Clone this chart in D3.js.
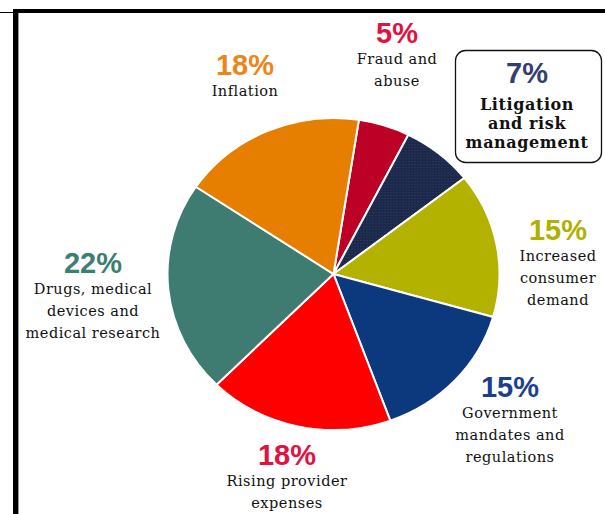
<!DOCTYPE html>
<html>
<head>
<meta charset="utf-8">
<script src="https://cdn.jsdelivr.net/npm/d3@7"></script>
<style>
  body { margin: 0; background: #fff; }
  svg { display: block; }
</style>
</head>
<body>
<div id="chart"></div>
<script>
// slices, clockwise from just right of 12 o'clock
const categories = ["Fraud and abuse", "Litigation and risk management", "Increased consumer demand",
    "Government mandates and regulations", "Rising provider expenses",
    "Drugs, medical devices and medical research", "Inflation"];
const shares = [5, 7, 15, 15, 18, 22, 18];
const pctLabels = ["5%", "7%", "15%", "15%", "18%", "22%", "18%"];
const labelLines = [
    ["Fraud and", "abuse"],
    ["Litigation", "and risk", "management"],
    ["Increased", "consumer", "demand"],
    ["Government", "mandates and", "regulations"],
    ["Rising provider", "expenses"],
    ["Drugs, medical", "devices and", "medical research"],
    ["Inflation"]
];

const sliceColors = ["#BC0026", "url(#navyDots)", "#B3B200", "#0C387E", "#FF0000", "#3E7B70", "#E67E00"];
const pctColors = ["#E2123F", "#343E6E", "#B0B000", "#1A3F8E", "#E2123F", "#3A7F70", "#EE8518"];

// where each label block sits: center x, baseline of the percentage
const labelPos = [
    { x: 397, y: 43 }, { x: 527, y: 83 }, { x: 558, y: 240 }, { x: 510, y: 397 },
    { x: 287, y: 465 }, { x: 93, y: 273 }, { x: 245, y: 75 }
];

const W = 605, H = 514;
const svg = d3.select("#chart").append("svg")
    .attr("width", W).attr("height", H);

// dotted navy fill
const defs = svg.append("defs");
const pat = defs.append("pattern")
    .attr("id", "navyDots")
    .attr("patternUnits", "userSpaceOnUse")
    .attr("width", 3).attr("height", 3);
pat.append("rect").attr("width", 3).attr("height", 3).attr("fill", "#1B2849");
pat.append("rect").attr("width", 1).attr("height", 1).attr("fill", "#34446E");

// frame lines (top and left)
svg.append("rect").attr("x", 13).attr("y", 9).attr("width", W - 13).attr("height", 4).attr("fill", "#000");
svg.append("rect").attr("x", 0).attr("y", 12).attr("width", 14).attr("height", 1).attr("fill", "#000");
svg.append("rect").attr("x", 13).attr("y", 9).attr("width", 5).attr("height", H).attr("fill", "#000");
svg.append("rect").attr("x", 18).attr("y", 13).attr("width", 1).attr("height", H).attr("fill", "#999");

// pie (slightly squashed vertically)
const cx = 333.5, cy = 274, rx = 166, ry = 156;
const start = 8.8 * Math.PI / 180;
const pie = d3.pie().sort(null).value(d => d)
    .startAngle(start).endAngle(start + 2 * Math.PI);
const arc = d3.arc().innerRadius(0).outerRadius(rx);

const pieG = svg.append("g")
    .attr("transform", `translate(${cx},${cy}) scale(1,${ry / rx})`);

pieG.selectAll("path")
    .data(pie(shares))
    .enter().append("path")
    .attr("d", arc)
    .attr("fill", (d, i) => sliceColors[i])
    .attr("stroke", "#fff")
    .attr("stroke-width", 2)
    .attr("vector-effect", "non-scaling-stroke");

// litigation box
svg.append("rect")
    .attr("x", 455.5).attr("y", 50.5)
    .attr("width", 146).attr("height", 112)
    .attr("rx", 10).attr("ry", 10)
    .attr("fill", "#fff").attr("stroke", "#111").attr("stroke-width", 1.3);

// labels
const labels = svg.selectAll(".lbl")
    .data(categories)
    .enter().append("g")
    .attr("class", "lbl")
    .attr("transform", (d, i) => `translate(${labelPos[i].x},${labelPos[i].y})`);

labels.append("text")
    .attr("text-anchor", "middle")
    .style("font-family", "'Liberation Sans', Arial, sans-serif")
    .style("font-weight", "bold")
    .style("font-size", "29px")
    .attr("fill", (d, i) => pctColors[i])
    .text((d, i) => pctLabels[i]);

labels.each(function (d, i) {
    const g = d3.select(this);
    const isBox = i === 1;
    const gap = isBox ? 19 : 22;
    labelLines[i].forEach((line, j) => {
        g.append("text")
            .attr("text-anchor", "middle")
            .attr("y", (isBox ? 27 : 21) + j * gap)
            .style("font-family", "'DejaVu Serif', serif")
            .style("font-size", isBox ? "16px" : "14.5px")
            .style("font-weight", isBox ? "bold" : "normal")
            .style("letter-spacing", isBox ? "0.6px" : "0.5px")
            .attr("fill", "#111")
            .text(line);
    });
});
</script>
</body>
</html>
